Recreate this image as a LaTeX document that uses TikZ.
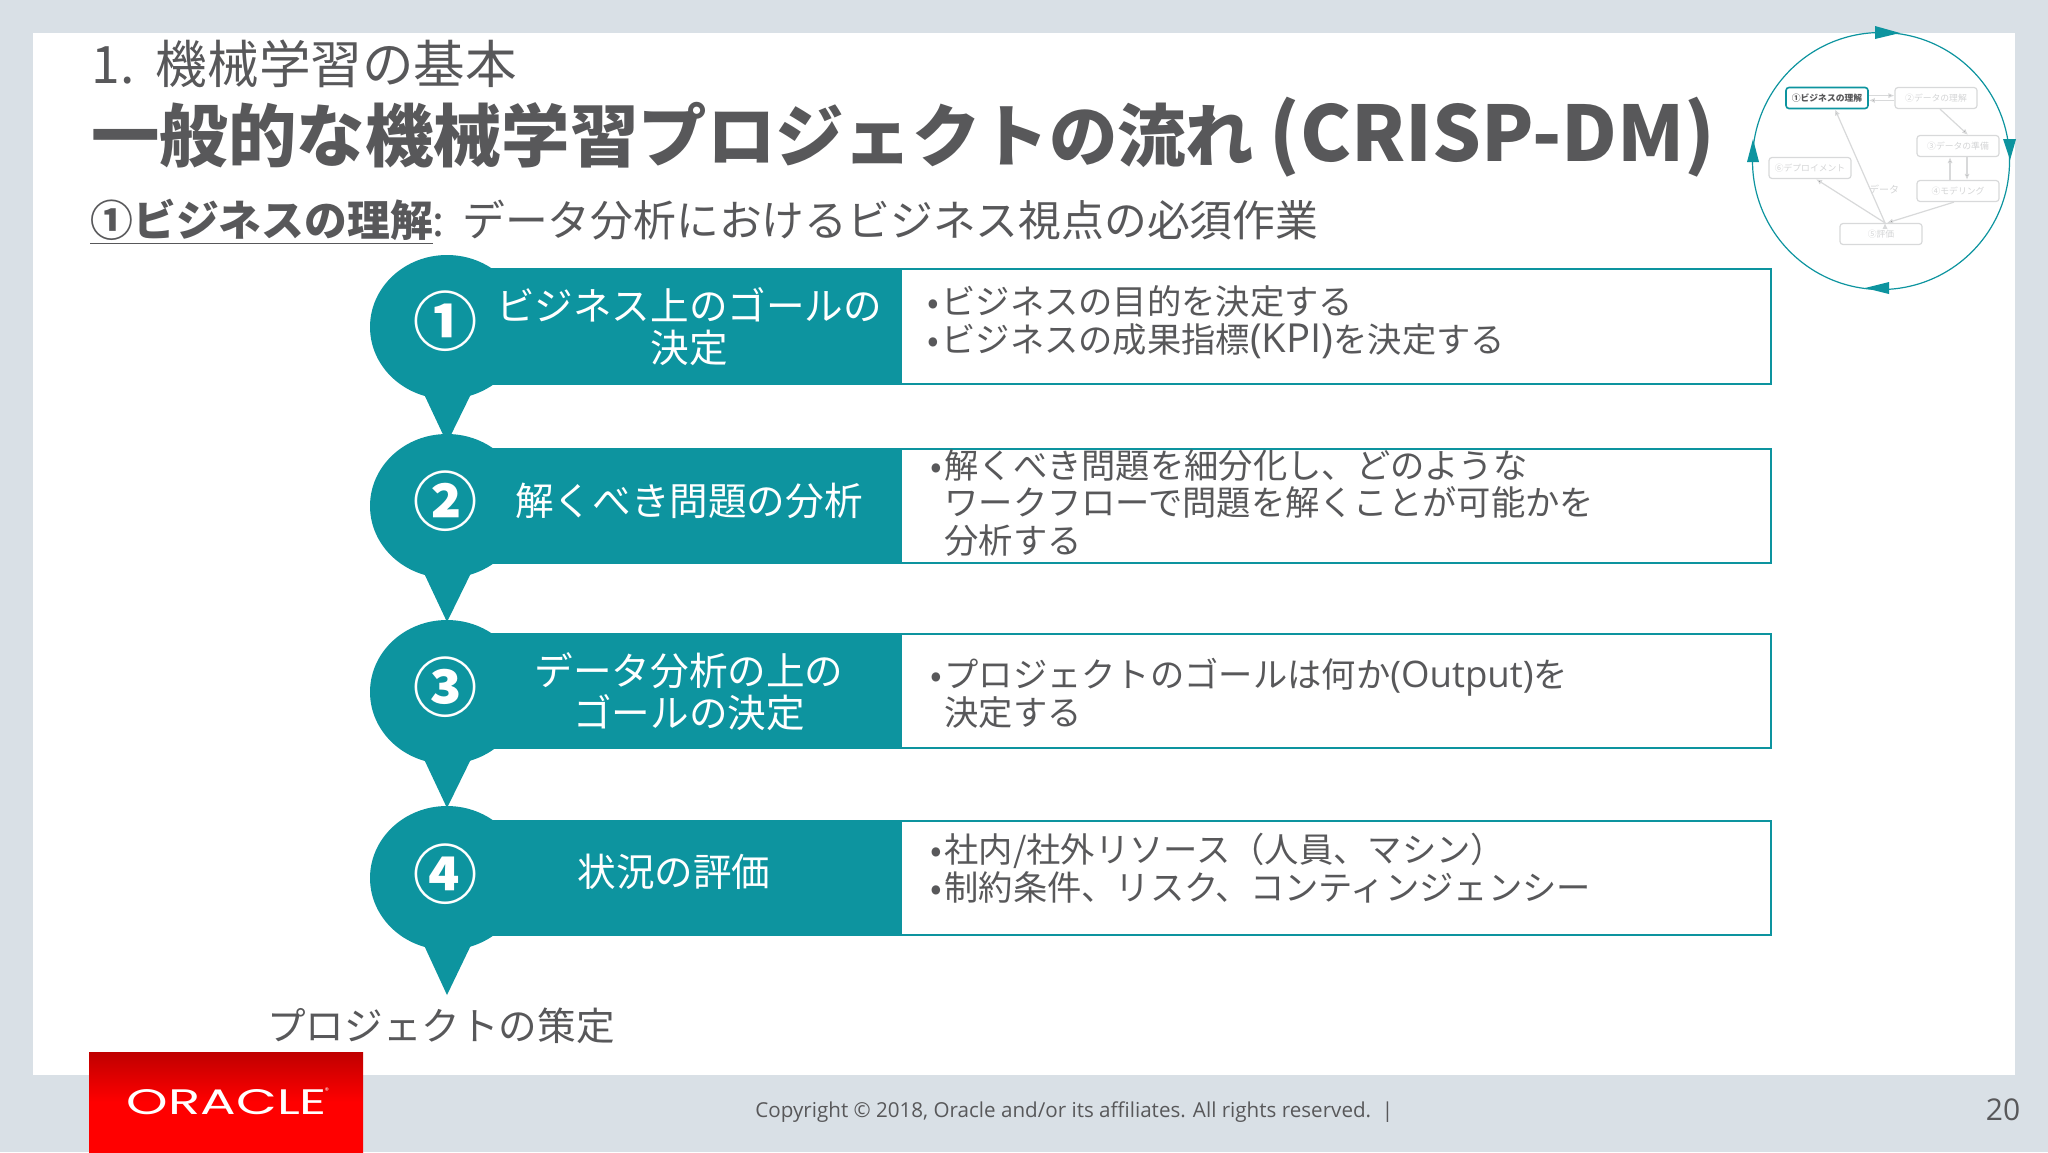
\documentclass[tikz,border=0pt]{standalone}
\usepackage{fontspec}
\usepackage{graphicx}
\setmainfont{Noto Sans CJK JP}
\newfontfamily\footfont{Open Sans}
\newfontfamily\logofont{Poppins}
\usetikzlibrary{arrows.meta,shadings}
\definecolor{pagebg}{HTML}{D9E0E6}
\definecolor{oratl}{HTML}{0D949F}
\definecolor{inkgray}{HTML}{58585A}
\definecolor{fadeline}{HTML}{D8D9DA}
\definecolor{fadetext}{HTML}{D4D5D6}
\newcommand{\bul}{\makebox[7pt][l]{•}}
\newcommand{\ind}{\hspace*{7pt}}
\tikzset{
	labeltext/.style={text=white,align=center,inner sep=0pt,font=\fontsize{19.3}{21}\selectfont},
	numtext/.style={text=white,inner sep=0pt,font=\fontsize{32}{34}\selectfont\bfseries},
	bodytext/.style={text=inkgray,align=left,anchor=west,inner sep=0pt,font=\fontsize{17.15}{18.9}\selectfont},
	minibox/.style={draw=fadeline,rounded corners=1.5pt,line width=.6pt,minimum width=41pt,minimum height=10.5pt,inner sep=0pt,text=fadetext,font=\fontsize{4.4}{5}\selectfont},
	miniarrow/.style={draw=fadeline,line width=.6pt,-{Latex[length=3pt,width=2.6pt]}}
}
\begin{document}
\begin{tikzpicture}[x=0.5pt,y=-0.5pt]
\useasboundingbox (0,0) rectangle (2048,1152);
\fill[pagebg] (0,0) rectangle (2048,1152);
\fill[white] (33,33) rectangle (2015,1075);

% heading
\node[anchor=west,inner sep=0pt,text=inkgray,font=\fontsize{25.8}{28}\selectfont] (section) at (91,64)
	{1.\kern 5pt\ 機械学習の基本};
\node[anchor=west,inner sep=0pt,text=inkgray,font=\fontsize{34.2}{38}\selectfont\bfseries] (title) at (91,137)
	{一般的な機械学習プロジェクトの流れ {\fontsize{38.3}{38}\selectfont (CRISP-DM)}};
\node[anchor=west,inner sep=0pt,text=inkgray,font=\fontsize{21.4}{24}\selectfont] (subtitle) at (90,222)
	{\underline{\textbf{①ビジネスの理解}}:\kern 4pt\ データ分析におけるビジネス視点の必須作業};

% row 1
\fill[oratl] (447,327) ellipse [x radius=77,y radius=72];
\fill[oratl] (423,392) -- (447,443) -- (472,392) -- cycle;
\fill[oratl] (480,268) rectangle (901,385);
\draw[oratl,line width=1.4pt,fill=white] (901,269) rectangle (1771,384);
% row 2
\fill[oratl] (447,506) ellipse [x radius=77,y radius=72];
\fill[oratl] (423,571) -- (447,622) -- (472,571) -- cycle;
\fill[oratl] (480,448) rectangle (901,564);
\draw[oratl,line width=1.4pt,fill=white] (901,449) rectangle (1771,563);
% row 3
\fill[oratl] (447,692) ellipse [x radius=77,y radius=72];
\fill[oratl] (423,757) -- (447,808) -- (472,757) -- cycle;
\fill[oratl] (480,633) rectangle (901,749);
\draw[oratl,line width=1.4pt,fill=white] (901,634) rectangle (1771,748);
% row 4
\fill[oratl] (447,878) ellipse [x radius=77,y radius=72];
\fill[oratl] (423,943) -- (447,995) -- (472,943) -- cycle;
\fill[oratl] (480,820) rectangle (901,936);
\draw[oratl,line width=1.4pt,fill=white] (901,821) rectangle (1771,935);

\node[numtext] (num1) at (445,321) {①};
\node[numtext] (num2) at (445,501) {②};
\node[numtext] (num3) at (445,687) {③};
\node[numtext] (num4) at (445,874) {④};

\node[labeltext] (goal) at (689,327)
	{ビジネス上のゴールの\\決定};
\node[labeltext] (problem) at (689,501)
	{解くべき問題の分析};
\node[labeltext] (analysis) at (689,692)
	{データ分析の上の\\ゴールの決定};
\node[labeltext] (status) at (674,872)
	{状況の評価};

\node[bodytext] (goalbody) at (927,322)
	{\bul ビジネスの目的を決定する\\\bul ビジネスの成果指標{\footfont\fontsize{20}{18.9}\selectfont (KPI)}を決定する};
\node[bodytext] (problembody) at (930,503)
	{\bul 解くべき問題を細分化し、どのような\\\ind ワークフローで問題を解くことが可能かを\\\ind 分析する};
\node[bodytext] (analysisbody) at (930,693)
	{\bul プロジェクトのゴールは何か{\footfont\fontsize{18.3}{18.9}\selectfont (Output)}を\\\ind 決定する};
\node[bodytext] (statusbody) at (930,868)
	{\bul 社内/社外リソース（人員、マシン）\\\bul 制約条件、リスク、コンティンジェンシー};

\node[inner sep=0pt,text=inkgray,font=\fontsize{19.3}{21}\selectfont] (project) at (441,1026)
	{プロジェクトの策定};

% cycle in the corner
\draw[oratl,line width=.6pt] (1881,161) circle [radius=128.5];
\fill[oratl] (1875,26) -- (1900,33) -- (1875,39) -- cycle;
\fill[oratl] (2003,139) -- (2016,139) -- (2010,160) -- cycle;
\fill[oratl] (1889,282) -- (1889,294) -- (1865,288) -- cycle;
\fill[oratl] (1747,162) -- (1759,162) -- (1753,139) -- cycle;

\node[minibox,draw=oratl,line width=.8pt,text=inkgray,font=\fontsize{4.4}{5}\selectfont\bfseries] (business) at (1827,98)
	{①ビジネスの理解};
\node[minibox] (understand) at (1936,98)
	{②データの理解};
\node[minibox] (prepare) at (1958,146)
	{③データの準備};
\node[minibox] (modeling) at (1958,191)
	{④モデリング};
\node[minibox] (evaluate) at (1881,234)
	{⑤評価};
\node[minibox] (deploy) at (1810,168)
	{⑥デプロイメント};
\node[inner sep=0pt,text=fadetext,font=\fontsize{5}{6}\selectfont] (data) at (1884,190)
	{データ};

\path[miniarrow]
([yshift=1.2pt]business.east) edge ([yshift=1.2pt]understand.west)
([yshift=-1.2pt]understand.west) edge ([yshift=-1.2pt]business.east)
([xshift=2pt]understand.south) edge ([xshift=5pt]prepare.north)
([xshift=4.5pt]prepare.south) edge ([xshift=4.5pt]modeling.north)
([xshift=-4pt]modeling.north) edge ([xshift=-4pt]prepare.south)
([xshift=-2pt]modeling.south) edge ([xshift=3pt]evaluate.north)
([xshift=2pt]evaluate.north) edge ([xshift=3pt]deploy.south)
([xshift=2pt]evaluate.north) edge ([xshift=4pt]business.south);

% footer
\shade[top color=red!75!black,bottom color=red,middle color=red] (89,1052) rectangle (363,1152);
\node[inner sep=0pt,text=white,font=\logofont] (oracle) at (227,1102)
	{\resizebox{100pt}{12.5pt}{ORACLE}};
\node[inner sep=0pt,text=white,font=\logofont\fontsize{4}{4}\selectfont] (mark) at (327,1091)
	{®};
\node[anchor=west,inner sep=0pt,text=inkgray,font=\footfont\fontsize{10.3}{12}\selectfont] (copyright) at (755,1112)
	{Copyright © 2018, Oracle and/or its affiliates. All rights reserved.~~|};
\node[inner sep=0pt,text=inkgray,font=\footfont\fontsize{15}{18}\selectfont] (pagenum) at (2003,1110)
	{20};
\end{tikzpicture}
\end{document}
